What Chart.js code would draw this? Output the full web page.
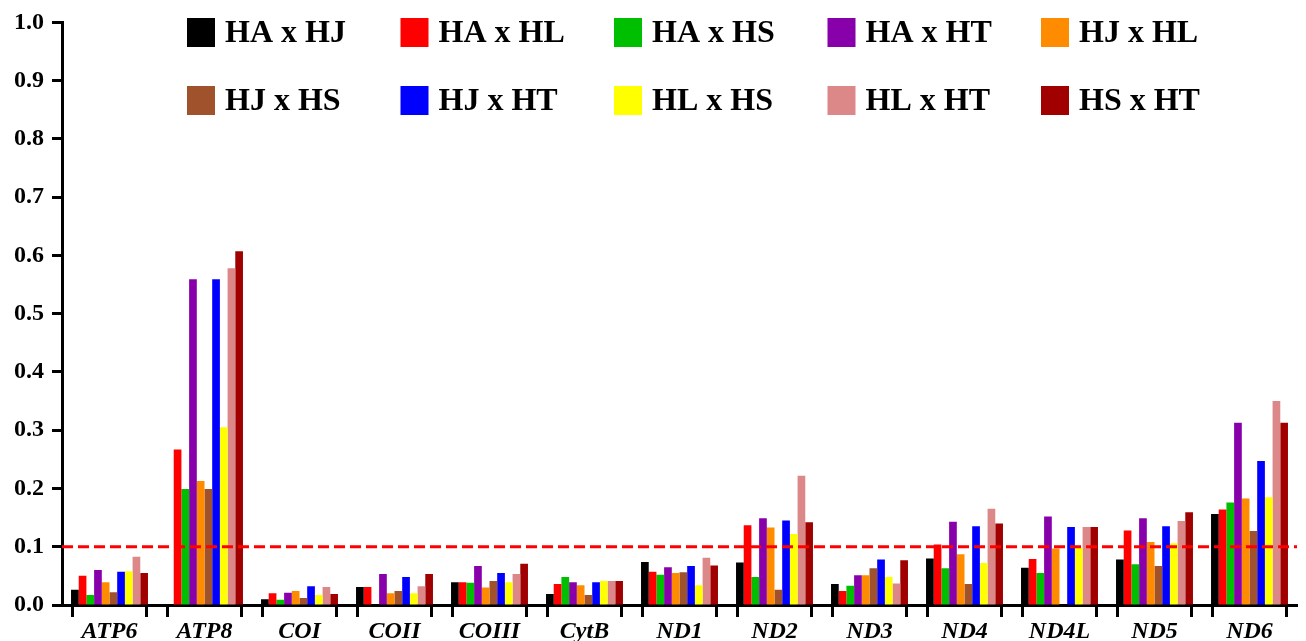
<!DOCTYPE html>
<html>
<head>
<meta charset="utf-8">
<script src="https://cdn.jsdelivr.net/npm/chart.js@4"></script>
<style>
  html, body { margin: 0; padding: 0; background: #ffffff; }
  #wrap { width: 1306px; height: 641px; }
</style>
</head>
<body>
<div id="wrap"><canvas id="c" width="1306" height="641"></canvas></div>
<script>
// Genes along the x axis
const genes = ['ATP6', 'ATP8', 'COI', 'COII', 'COIII', 'CytB', 'ND1', 'ND2', 'ND3', 'ND4', 'ND4L', 'ND5', 'ND6'];

// Pairwise values per gene
const haHJ = [0.026, 0.000, 0.010, 0.031, 0.039, 0.019, 0.074, 0.073, 0.036, 0.080, 0.064, 0.078, 0.156];
const haHL = [0.050, 0.267, 0.020, 0.031, 0.039, 0.036, 0.057, 0.137, 0.024, 0.104, 0.079, 0.128, 0.164];
const haHS = [0.017, 0.199, 0.009, 0.000, 0.038, 0.048, 0.052, 0.048, 0.033, 0.063, 0.055, 0.070, 0.176];
const haHT = [0.060, 0.559, 0.021, 0.053, 0.067, 0.039, 0.065, 0.149, 0.051, 0.143, 0.152, 0.149, 0.313];
const hjHL = [0.039, 0.213, 0.024, 0.020, 0.030, 0.034, 0.055, 0.133, 0.051, 0.087, 0.097, 0.108, 0.183];
const hjHS = [0.022, 0.199, 0.012, 0.024, 0.041, 0.017, 0.056, 0.026, 0.063, 0.036, 0.000, 0.067, 0.127];
const hjHT = [0.057, 0.559, 0.032, 0.048, 0.055, 0.039, 0.067, 0.145, 0.078, 0.135, 0.134, 0.135, 0.247];
const hlHS = [0.058, 0.305, 0.017, 0.020, 0.039, 0.041, 0.034, 0.122, 0.048, 0.072, 0.098, 0.106, 0.185];
const hlHT = [0.083, 0.578, 0.031, 0.032, 0.053, 0.041, 0.081, 0.222, 0.037, 0.165, 0.134, 0.144, 0.350];
const hsHT = [0.055, 0.607, 0.019, 0.053, 0.071, 0.041, 0.068, 0.142, 0.077, 0.140, 0.134, 0.159, 0.313];

const pairLabels = ['HA x HJ', 'HA x HL', 'HA x HS', 'HA x HT', 'HJ x HL', 'HJ x HS', 'HJ x HT', 'HL x HS', 'HL x HT', 'HS x HT'];
const pairValues = [haHJ, haHL, haHS, haHT, hjHL, hjHS, hjHT, hlHS, hlHT, hsHT];
const pairColors = ['#000000', '#ff0000', '#00bf00', '#8800aa', '#ff8c00', '#a0522d', '#0000ff', '#ffff00', '#dc8888', '#a00000'];

// Reference threshold line
const threshold = 0.1;

// Y tick values
const yMin = 0, yMax = 1.0, yStep = 0.1;

const CAT_PCT = 0.81;

// Dashed horizontal reference line
const thresholdLine = {
  id: 'thresholdLine',
  afterDatasetsDraw(chart) {
    const { ctx, chartArea, scales } = chart;
    const y = scales.y.getPixelForValue(threshold);
    ctx.save();
    ctx.strokeStyle = '#ff0000';
    ctx.lineWidth = 3;
    ctx.setLineDash([11, 5]);
    ctx.beginPath();
    ctx.moveTo(chartArea.left, y);
    ctx.lineTo(chartArea.right, y);
    ctx.stroke();
    ctx.restore();
  }
};

// Tick marks at both edges of each gene's bar group
const groupTicks = {
  id: 'groupTicks',
  afterDraw(chart) {
    const { ctx, chartArea, scales } = chart;
    const xs = scales.x;
    const catW = (chartArea.right - chartArea.left) / genes.length;
    const half = catW * CAT_PCT / 2 - 1.5;
    ctx.save();
    ctx.strokeStyle = '#000000';
    ctx.lineWidth = 3;
    genes.forEach((g, i) => {
      const cx = xs.getPixelForValue(i);
      [cx - half, cx + half].forEach(px => {
        ctx.beginPath();
        ctx.moveTo(px, chartArea.bottom);
        ctx.lineTo(px, chartArea.bottom + 12);
        ctx.stroke();
      });
    });
    ctx.restore();
  }
};

// Two-row legend with evenly spaced columns
const gridLegend = {
  id: 'gridLegend',
  afterDraw(chart) {
    const { ctx } = chart;
    ctx.save();
    ctx.font = 'bold 32px "Liberation Serif", "Times New Roman", serif';
    ctx.textBaseline = 'middle';
    ctx.textAlign = 'left';
    chart.data.datasets.forEach((ds, i) => {
      const col = i % 5, row = Math.floor(i / 5);
      const bx = 187 + col * 213.5;
      const by = 18 + row * 68;
      ctx.fillStyle = ds.backgroundColor;
      ctx.fillRect(bx, by, 28, 29);
      ctx.fillStyle = '#000000';
      ctx.fillText(ds.label, bx + 38, by + 16);
    });
    ctx.restore();
  }
};

new Chart(document.getElementById('c'), {
  type: 'bar',
  data: {
    labels: genes,
    datasets: pairLabels.map((lab, i) => ({
      label: lab,
      data: pairValues[i],
      backgroundColor: pairColors[i],
      borderWidth: 0,
      barPercentage: 1.0,
      categoryPercentage: CAT_PCT
    }))
  },
  options: {
    responsive: false,
    devicePixelRatio: 1,
    animation: false,
    layout: { padding: { top: 18, right: 9, left: 0, bottom: 0 } },
    plugins: {
      legend: { display: false },
      tooltip: { enabled: false }
    },
    scales: {
      x: {
        type: 'category',
        offset: true,
        grid: { display: false, drawTicks: false },
        border: { display: true, color: '#000000', width: 3 },
        ticks: {
          color: '#000000',
          padding: 12,
          maxRotation: 0,
          font: { family: '"Liberation Serif", "Times New Roman", serif', size: 24, weight: 'bold', style: 'italic' }
        },
        afterFit(scale) { scale.height = 36; }
      },
      y: {
        min: yMin,
        max: yMax,
        grid: { display: true, drawOnChartArea: false, drawTicks: true, tickLength: 10, tickWidth: 3, tickColor: '#000000' },
        border: { display: true, color: '#000000', width: 3 },
        ticks: {
          stepSize: yStep,
          color: '#000000',
          padding: 8,
          font: { family: '"Liberation Serif", "Times New Roman", serif', size: 24, weight: 'bold' },
          callback: v => Number(v).toFixed(1)
        },
        afterFit(scale) { scale.width = 62; }
      }
    }
  },
  plugins: [thresholdLine, groupTicks, gridLegend]
});
</script>
</body>
</html>
